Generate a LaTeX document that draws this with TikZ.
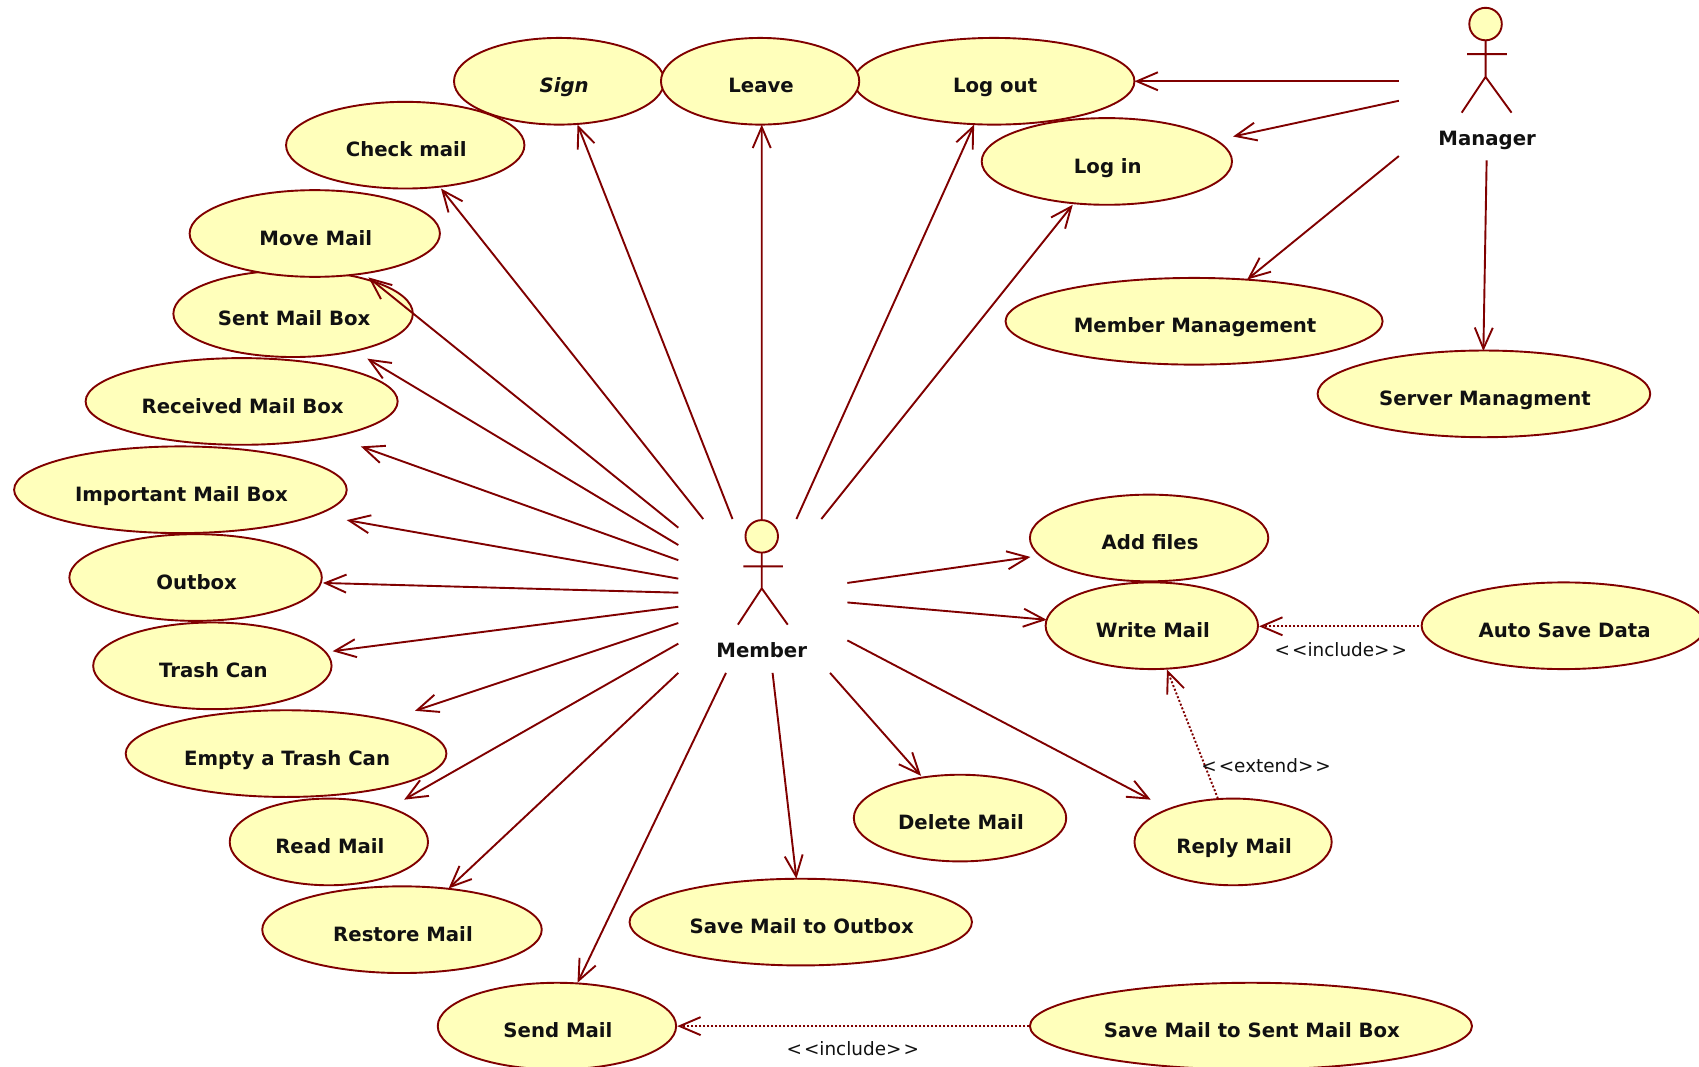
\documentclass[tikz,border=0pt]{standalone}
\usepackage{fontspec}
\setmainfont{DejaVu Sans}
\usetikzlibrary{shapes.geometric,arrows.meta}
\definecolor{umlred}{HTML}{800000}
\definecolor{umlfill}{HTML}{FFFFBB}
\definecolor{umltext}{HTML}{111111}
\def\u{0.54177pt}
\tikzset{
  usecase/.style={ellipse,draw=umlred,fill=umlfill,line width=0.95pt,minimum height=80*\u,inner sep=0pt,
    text=umltext,text height=11.7pt,text depth=0pt,font=\fontsize{9.85}{12}\selectfont\bfseries,
    execute at begin node=\hspace*{1pt}},
  assoc/.style={draw=umlred,line width=0.95pt,-{Straight Barb[length=10.5pt,width=9pt,line width=0.95pt]}},
  depend/.style={draw=umlred,line width=0.95pt,dash pattern=on 1pt off 1pt,-{Straight Barb[length=10.5pt,width=9pt,line width=0.95pt]}},
  actorbox/.style={rectangle,inner sep=0pt,minimum width=156*\u,minimum height=142*\u},
  actorline/.style={draw=umlred,line width=0.95pt},
  actorname/.style={text=umltext,font=\fontsize{9.85}{12}\selectfont\bfseries,inner sep=0pt,anchor=base},
  stereo/.style={text=umltext,font=\fontsize{9.2}{12}\selectfont,inner sep=0pt}
}
\begin{document}
\begin{tikzpicture}[x=\u,y=-\u]
\path[use as bounding box,clip] (0,0) rectangle (1568,984);
\fill[white] (0,0) rectangle (1568,984);
% use cases
\node[usecase,minimum width=194*\u] (sign) at (516,75) {\hspace*{4pt}\textit{Sign}};
\node[usecase,minimum width=259*\u] (logout) at (917.5,75) {Log out};
\node[usecase,minimum width=183*\u] (leave) at (701.5,75) {Leave};
\node[usecase,minimum width=231*\u] (login) at (1021.5,149) {Log in};
\node[usecase,minimum width=220*\u] (check) at (374,134) {Check mail};
\node[usecase,minimum width=221*\u] (sent) at (270.5,289.5) {Sent Mail Box};
\node[usecase,minimum width=231*\u] (move) at (290.5,215.5) {Move Mail};
\node[usecase,minimum width=288*\u] (received) at (223,370.5) {Received Mail Box};
\node[usecase,minimum width=307*\u] (important) at (166.5,452) {Important Mail Box};
\node[usecase,minimum width=233*\u] (outbox) at (180.5,533) {Outbox};
\node[usecase,minimum width=220*\u] (trash) at (196,614.5) {Trash Can};
\node[usecase,minimum width=296*\u] (empty) at (264,695.5) {Empty a Trash Can};
\node[usecase,minimum width=183*\u] (read) at (303.5,777) {Read Mail};
\node[usecase,minimum width=258*\u] (restore) at (371,858) {Restore Mail};
\node[usecase,minimum width=220*\u] (send) at (514,947) {Send Mail};
\node[usecase,minimum width=316*\u] (saveout) at (739,851) {Save Mail to Outbox};
\node[usecase,minimum width=196*\u] (delete) at (886,755) {Delete Mail};
\node[usecase,minimum width=182*\u] (reply) at (1138,777) {Reply Mail};
\node[usecase,minimum width=220*\u] (add) at (1060.5,496.5) {Add files};
\node[usecase,minimum width=196*\u] (write) at (1063,577.5) {Write Mail};
\node[usecase,minimum width=262*\u] (autosave) at (1443,577.5) {Auto Save Data};
\node[usecase,minimum width=408*\u] (savesent) at (1154.5,947) {Save Mail to Sent Mail Box};
\node[usecase,minimum width=348*\u] (mgmt) at (1102,296.5) {Member Management};
\node[usecase,minimum width=307*\u] (server) at (1369.5,363.5) {Server Managment};
% actors
\node[actorbox] (member) at (704,550) {};
\node[actorbox,minimum height=144*\u] (manager) at (1372,76) {};
\draw[actorline,fill=umlfill] (703,495) circle[radius=15];
\draw[actorline] (703,510) -- (703,543) (686,522.7) -- (722.6,522.7) (681,576.5) -- (703,543) -- (727,576.5);
\node[actorname] (membername) at (703,606.5) {Member};
\draw[actorline,fill=umlfill] (1371,22.2) circle[radius=15];
\draw[actorline] (1371,37.2) -- (1371,71) (1354,50) -- (1390.6,50) (1349,104) -- (1371,71) -- (1395,104);
\node[actorname] (managername) at (1372.5,134.5) {Manager};
% member connectors
\draw[assoc] ([shift={(-28,-71)}]member.center) -- ([shift={(17,40)}]sign.center);
\draw[assoc] ([shift={(-1,-71)}]member.center) -- ([shift={(1.5,40)}]leave.center);
\draw[assoc] ([shift={(31,-71)}]member.center) -- ([shift={(-18.5,40)}]logout.center);
\draw[assoc] ([shift={(54,-71)}]member.center) -- ([shift={(-31.5,40)}]login.center);
\draw[assoc] ([shift={(-55,-71)}]member.center) -- ([shift={(33,40)}]check.center);
\draw[assoc] ([shift={(-78,-63)}]member.center) -- ([shift={(49.5,40.5)}]move.center);
\draw[assoc] ([shift={(-78,-47)}]member.center) -- ([shift={(68.5,41.5)}]sent.center);
\draw[assoc] ([shift={(-78,-33)}]member.center) -- ([shift={(110,41.5)}]received.center);
\draw[assoc] ([shift={(-78,-16)}]member.center) -- ([shift={(153.5,28)}]important.center);
\draw[assoc] ([shift={(-78,-3)}]member.center) -- ([shift={(117.5,5)}]outbox.center);
\draw[assoc] ([shift={(-78,10)}]member.center) -- ([shift={(111,-13.5)}]trash.center);
\draw[assoc] ([shift={(-78,25)}]member.center) -- ([shift={(119,-39.5)}]empty.center);
\draw[assoc] ([shift={(-78,44)}]member.center) -- ([shift={(69.5,-39)}]read.center);
\draw[assoc] ([shift={(-78,71)}]member.center) -- ([shift={(43,-38)}]restore.center);
\draw[assoc] ([shift={(-34,71)}]member.center) -- ([shift={(19,-40)}]send.center);
\draw[assoc] ([shift={(9,71)}]member.center) -- ([shift={(-4,-40)}]saveout.center);
\draw[assoc] ([shift={(62,71)}]member.center) -- ([shift={(-36,-39)}]delete.center);
\draw[assoc] ([shift={(78,41)}]member.center) -- ([shift={(-76,-39)}]reply.center);
\draw[assoc] ([shift={(78,-12)}]member.center) -- ([shift={(-109.5,17.5)}]add.center);
\draw[assoc] ([shift={(78,6)}]member.center) -- ([shift={(-97,-5.5)}]write.center);
% manager connectors
\draw[assoc] ([shift={(-81,-1)}]manager.center) -- ([shift={(129.5,0)}]logout.center);
\draw[assoc] ([shift={(-81,17)}]manager.center) -- ([shift={(116.5,-23)}]login.center);
\draw[assoc] ([shift={(-81,68)}]manager.center) -- ([shift={(49,-38.5)}]mgmt.center);
\draw[assoc] ([shift={(0,72)}]manager.center) -- ([shift={(-0.5,-39.5)}]server.center);
% dependencies
\draw[depend] ([shift={(-133,0.5)}]autosave.center) -- ([shift={(99,0.5)}]write.center);
\draw[depend] ([shift={(-14,-40)}]reply.center) -- ([shift={(14,40.5)}]write.center);
\draw[depend] ([shift={(-204.5,0)}]savesent.center) -- ([shift={(111,0)}]send.center);
% stereotypes
\node[stereo] (incA) at (1237.5,599.5) {<\kern1pt<include>\kern1pt>};
\node[stereo] (ext) at (1168.5,706.5) {<\kern1pt<extend>\kern1pt>};
\node[stereo] (incB) at (787,967.5) {<\kern1pt<include>\kern1pt>};
\end{tikzpicture}
\end{document}
